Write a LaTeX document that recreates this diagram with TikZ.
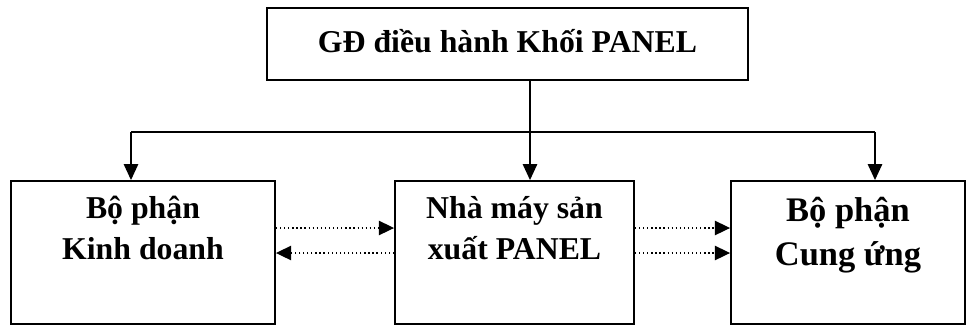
\documentclass[tikz,border=0pt]{standalone}
\usepackage{fontspec}
\setmainfont{Liberation Serif}
\usetikzlibrary{arrows.meta}

\tikzset{
  unit/.style={draw, line width=1.3pt, inner sep=0pt},
  caption/.style={anchor=north, align=center, inner sep=0pt,
    font=\bfseries\fontsize{22.6pt}{29pt}\selectfont},
  flow/.style={line width=1.1pt, -{Triangle[length=0.4cm,width=0.36cm]}},
  link/.style={line width=0.9pt, dotted, -{Triangle[length=0.38cm,width=0.36cm]}}
}

\begin{document}
\begin{tikzpicture}[x=0.025cm, y=-0.025cm]
  \useasboundingbox (0,0) rectangle (967,325);

  % boxes
  \node[unit, minimum width=12.025cm, minimum height=1.8cm,
        label={[caption, yshift=-0.55cm]north:GĐ điều hành Khối PANEL}]
        (gd) at (507.5,44) {};
  \node[unit, minimum width=6.6cm, minimum height=3.575cm,
        label={[caption, yshift=-0.4cm]north:Bộ phận\\Kinh doanh}]
        (kd) at (143,252.5) {};
  \node[unit, minimum width=5.975cm, minimum height=3.575cm,
        label={[caption, yshift=-0.4cm]north:Nhà máy sản\\xuất PANEL}]
        (nm) at (514.5,252.5) {};
  \node[unit, minimum width=5.85cm, minimum height=3.575cm,
        label={[caption, yshift=-0.42cm,
                font=\bfseries\fontsize{24.5pt}{31pt}\selectfont]north:Bộ phận\\Cung ứng}]
        (cu) at (848,252.5) {};

  % bus
  \coordinate (busL) at (131,132);
  \coordinate (busM) at (530,132);
  \coordinate (busR) at (875,132);
  \draw[line width=1.1pt] (busL) -- (busR);
  \draw[flow] (gd.south -| busM) -- (busM |- nm.north);
  \draw[flow] (busL) -- (busL |- kd.north);
  \draw[flow] (busR) -- (busR |- cu.north);

  % dotted links between units
  \coordinate (upper) at (0,228);
  \coordinate (lower) at (0,253);
  \draw[link] (kd.east |- upper) -- (nm.west |- upper);
  \draw[link] (nm.west |- lower) -- (kd.east |- lower);
  \draw[link] (nm.east |- upper) -- (cu.west |- upper);
  \draw[link] (nm.east |- lower) -- (cu.west |- lower);
\end{tikzpicture}
\end{document}
